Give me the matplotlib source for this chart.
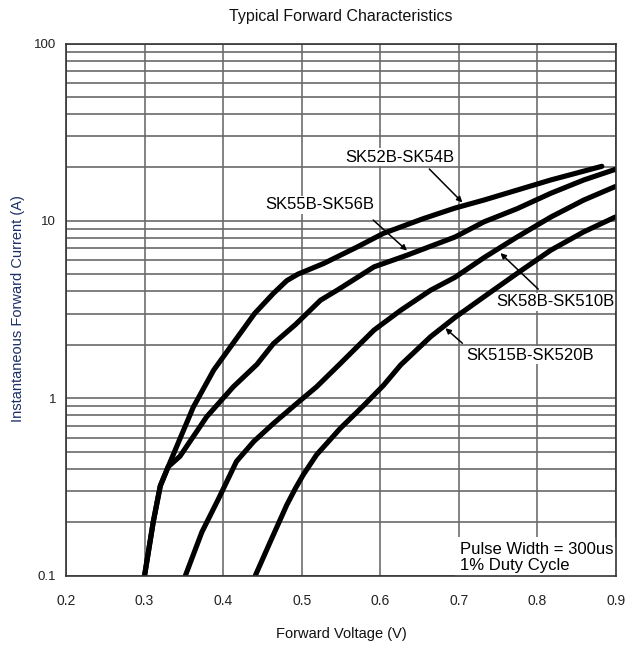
import matplotlib
matplotlib.use("Agg")
import matplotlib.pyplot as plt
from matplotlib.ticker import FixedLocator, LogLocator, NullFormatter

plt.rcParams['font.family'] = ['Liberation Sans', 'DejaVu Sans']

# ---- data (V, A) ----
v_sk52 = [0.300, 0.311, 0.320, 0.330, 0.345, 0.362, 0.388, 0.413, 0.440, 0.464,
          0.481, 0.495, 0.528, 0.570, 0.604, 0.655, 0.695, 0.732, 0.774, 0.817, 0.882]
i_sk52 = [0.10, 0.20, 0.32, 0.41, 0.59, 0.89, 1.44, 2.05, 3.0, 3.9,
          4.6, 5.0, 5.75, 7.1, 8.5, 10.3, 11.8, 13.1, 14.9, 17.0, 20.3]

v_sk55 = [0.300, 0.311, 0.320, 0.330, 0.345, 0.379, 0.413, 0.443, 0.464, 0.492,
          0.524, 0.545, 0.592, 0.634, 0.695, 0.732, 0.774, 0.817, 0.859, 0.899]
i_sk55 = [0.10, 0.20, 0.32, 0.41, 0.47, 0.785, 1.16, 1.55, 2.03, 2.6,
          3.57, 4.06, 5.5, 6.4, 8.1, 9.87, 11.7, 14.3, 17.0, 19.5]

v_sk58 = [0.352, 0.373, 0.394, 0.417, 0.439, 0.464, 0.492, 0.519, 0.548, 0.592,
          0.626, 0.664, 0.695, 0.732, 0.774, 0.817, 0.859, 0.899]
i_sk58 = [0.10, 0.176, 0.27, 0.44, 0.57, 0.72, 0.92, 1.16, 1.55, 2.42,
          3.13, 4.06, 4.8, 6.2, 8.1, 10.5, 13.1, 15.6]

v_sk515 = [0.441, 0.460, 0.481, 0.492, 0.502, 0.519, 0.549, 0.579, 0.604, 0.626,
           0.664, 0.695, 0.732, 0.774, 0.817, 0.859, 0.899]
i_sk515 = [0.10, 0.155, 0.25, 0.31, 0.37, 0.48, 0.675, 0.91, 1.18, 1.54,
           2.22, 2.85, 3.73, 5.05, 6.83, 8.67, 10.5]

x_ticks = [0.2, 0.3, 0.4, 0.5, 0.6, 0.7, 0.8, 0.9]
y_ticks = [0.1, 1, 10, 100]
y_tick_labels = ['0.1', '1', '10', '100']

W, H = 626, 646
fig = plt.figure(figsize=(W / 100, H / 100), dpi=100)
ax = fig.add_axes([66 / W, (H - 575.5) / H, 550 / W, 532 / H])

ax.set_yscale('log')
ax.set_xlim(0.2, 0.9)
ax.set_ylim(0.1, 100)

ax.xaxis.set_major_locator(FixedLocator(x_ticks))
ax.yaxis.set_major_locator(FixedLocator(y_ticks))
ax.set_yticklabels(y_tick_labels)
ax.set_xticklabels(['%.1f' % x for x in x_ticks])
ax.yaxis.set_minor_locator(LogLocator(base=10, subs=range(2, 10)))
ax.yaxis.set_minor_formatter(NullFormatter())

ax.tick_params(which='both', length=0)
ax.tick_params(axis='x', pad=13, labelsize=10, labelcolor='#222222')
ax.tick_params(axis='y', pad=7, labelsize=9.5, labelcolor='#222222')

ax.grid(True, which='major', axis='x', color='#7a7a7a', lw=1.3)
ax.grid(True, which='both', axis='y', color='#6a6a6a', lw=1.2)
ax.set_axisbelow(True)
for s in ax.spines.values():
    s.set_color('#333333')
    s.set_linewidth(1.2)
    s.set_zorder(6)

# curves
for v, i in [(v_sk52, i_sk52), (v_sk55, i_sk55), (v_sk58, i_sk58), (v_sk515, i_sk515)]:
    ax.plot(v, i, color='black', lw=3.7, solid_capstyle='round', solid_joinstyle='round', zorder=3)

# labels with arrows
box = dict(boxstyle='square,pad=0.1', fc='white', ec='none')
arw = dict(arrowstyle='-|>', color='black', lw=1.1, mutation_scale=8, shrinkA=0, shrinkB=0)

ax.text(0.6255, 22.9, 'SK52B-SK54B', ha='center', va='center', fontsize=12, bbox=box, zorder=4)
ax.annotate('', xy=(0.7045, 12.7), xytext=(0.6624, 19.6), arrowprops=arw, zorder=5)

ax.text(0.5236, 12.3, 'SK55B-SK56B', ha='center', va='center', fontsize=12, bbox=box, zorder=4)
ax.annotate('', xy=(0.634, 6.8), xytext=(0.591, 10.1), arrowprops=arw, zorder=5)

ax.text(0.823, 3.49, 'SK58B-SK510B', ha='center', va='center', fontsize=12, bbox=box, zorder=4)
ax.annotate('', xy=(0.7529, 6.58), xytext=(0.801, 4.12), arrowprops=arw, zorder=5)

ax.text(0.791, 1.75, 'SK515B-SK520B', ha='center', va='center', fontsize=12, bbox=box, zorder=4)
ax.annotate('', xy=(0.6828, 2.48), xytext=(0.7045, 2.04), arrowprops=arw, zorder=5)

ax.text(0.702, 0.1268, 'Pulse Width = 300us\n1% Duty Cycle', ha='left', va='center',
        fontsize=12, linespacing=1.1, bbox=dict(boxstyle='square,pad=0.3', fc='white', ec='none'),
        zorder=4)

# titles
fig.text(341 / W, 1 - 17 / H, 'Typical Forward Characteristics', ha='center', va='center',
         fontsize=11.5, color='#111111')
fig.text(341 / W, 1 - 634 / H, 'Forward Voltage (V)', ha='center', va='center',
         fontsize=10.5, color='#111111')
fig.text(18 / W, 1 - 309 / H, 'Instantaneous Forward Current (A)', ha='center', va='center',
         rotation=90, fontsize=10.5, color='#1b2f66')

fig.savefig('out.png', dpi=100)
